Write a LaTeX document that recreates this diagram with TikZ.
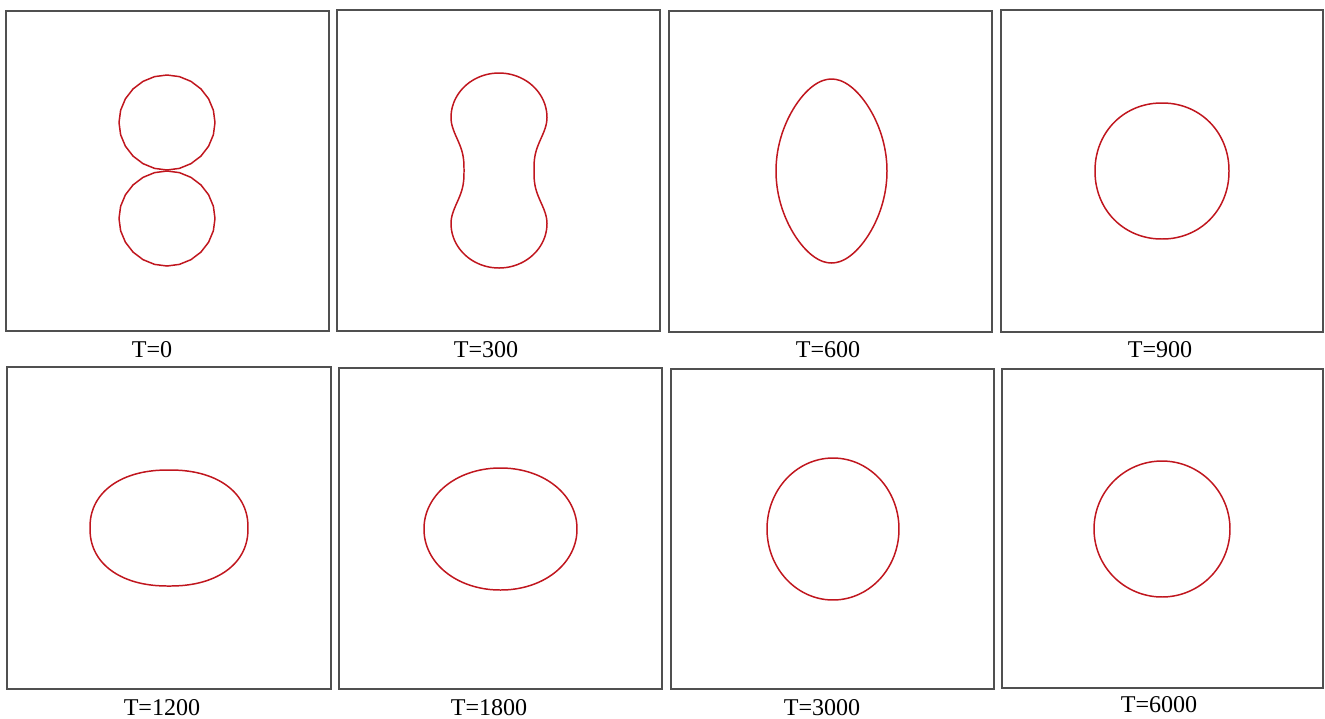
\documentclass[tikz,border=0pt]{standalone}
\usepackage{fontspec}
\setmainfont{Liberation Serif}
\usetikzlibrary{positioning}
\definecolor{FrameGray}{HTML}{505050}
\definecolor{FrontRed}{HTML}{C0161E}
\tikzset{
  frame/.style={draw=FrameGray, line width=0.85pt},
  front/.style={draw=FrontRed, line width=0.85pt, line join=round},
  tlabel/.style={font=\fontsize{13.7}{16}\selectfont, anchor=base,
                 inner sep=0pt},
}
% superellipse: centre x, centre y, half width, half height, exponent 2/n
\newcommand\superell[5]{%
  \draw[front, shift={(#1,#2)}] plot[domain=2.5:357.5, samples=72, smooth cycle]
    ({#3*sign(cos(\x))*abs(cos(\x))^#5}, {#4*sign(sin(\x))*abs(sin(\x))^#5});}

\begin{document}
\begin{tikzpicture}[x=0.02cm, y=-0.02cm]
  \useasboundingbox (0,0) rectangle (1325,718);

  % panel frames, top row then bottom row (pixel coordinates, y down)
  \draw[frame] (6,11) rectangle (329,331);
  \draw[frame] (337,10) rectangle (660,331);
  \draw[frame] (669,11) rectangle (992,332);
  \draw[frame] (1001,10) rectangle (1323,332);
  \draw[frame] (7,367) rectangle (331,689);
  \draw[frame] (339,368) rectangle (662,689);
  \draw[frame] (671,369) rectangle (994,689);
  \draw[frame] (1002,369) rectangle (1323,688);

  % T=0: two touching droplets, faceted
  \draw[front, shift={(167,122.5)}] plot[domain=0:345, samples=24]
    ({48*cos(\x)}, {47.5*sin(\x)}) -- cycle;
  \draw[front, shift={(167,218.5)}] plot[domain=0:345, samples=24]
    ({48*cos(\x)}, {47.5*sin(\x)}) -- cycle;

  % T=300: two caps joined by a neck
  \draw[front, shift={(499,170.5)}]
    plot[domain=-90:0, samples=25] ({48*cos(\x)}, {-53+44.5*sin(\x)})
    -- plot[domain=-53:53, samples=43] ({35+13*((1-cos(180*\x/53))/2)^1.5}, {\x})
    -- plot[domain=0:90, samples=25] ({48*cos(\x)}, {53+44.5*sin(\x)})
    -- plot[domain=90:180, samples=25] ({48*cos(\x)}, {53+44.5*sin(\x)})
    -- plot[domain=53:-53, samples=43] ({-35-13*((1-cos(180*\x/53))/2)^1.5}, {\x})
    -- plot[domain=180:270, samples=25] ({48*cos(\x)}, {-53+44.5*sin(\x)})
    -- cycle;

  % T=600: elongated drop
  \draw[front, shift={(831.5,171)}] plot[domain=0:355, samples=72, smooth cycle]
    ({55.5*cos(\x)*(1-0.15*sin(\x)^2)}, {92*sin(\x)});

  % later times relax towards a circle
  \superell{1162}{171}{67}{68}{0.97}
  \superell{169}{528}{79}{58}{0.9}
  \superell{500.5}{529}{76.5}{61}{0.98}
  \superell{833}{529}{66}{71}{1}
  \superell{1162}{529}{68}{68}{1}

  % time labels
  \node[tlabel] (t0) at (152,357) {T=0};
  \node[tlabel] (t300) at (486,357) {T=300};
  \node[tlabel] (t600) at (828,357) {T=600};
  \node[tlabel] (t900) at (1160,357) {T=900};
  \node[tlabel] (t1200) at (162,715) {T=1200};
  \node[tlabel] (t1800) at (489,715) {T=1800};
  \node[tlabel] (t3000) at (822,715) {T=3000};
  \node[tlabel] (t6000) at (1159,712) {T=6000};
\end{tikzpicture}
\end{document}
